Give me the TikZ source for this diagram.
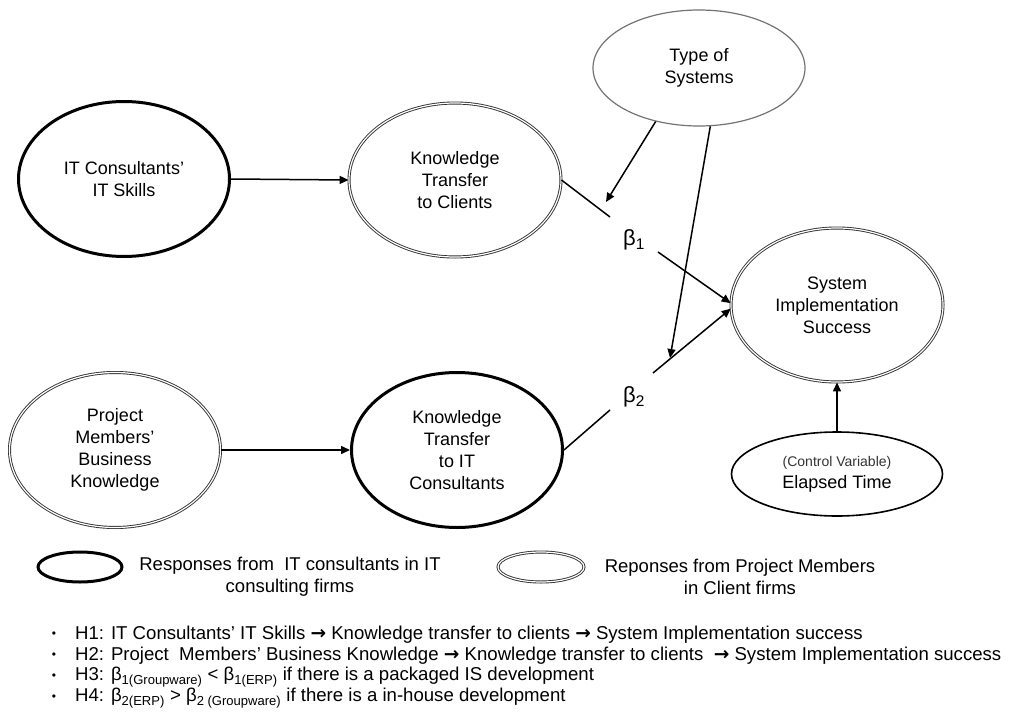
\documentclass[tikz,border=0pt]{standalone}
\usepackage{fontspec}
\setmainfont{Liberation Sans}
\newfontfamily\arrowfont{DejaVu Sans}
\newcommand{\myarr}{{\arrowfont\bfseries →}}
\usetikzlibrary{arrows.meta,shapes.geometric}
\begin{document}
\begin{tikzpicture}[x=1pt,y=-1pt,
  base/.style={ellipse, inner sep=0pt, align=center, font=\fontsize{18}{22}\selectfont},
  thickell/.style={base, draw=black, line width=3pt},
  dblell/.style={base, draw=black!80, line width=0.9pt, double=white, double distance=1.2pt},
  thinell/.style={base, draw=black!55, line width=1.2pt},
  ctrlell/.style={base, draw=black, line width=1.6pt},
  conn/.style={line width=1.5pt, draw=black},
  arr/.style={conn, -{Triangle[length=9pt,width=8pt]}},
  betalab/.style={font=\fontsize{22}{24}\selectfont, inner sep=0pt},
  legtext/.style={align=center, font=\fontsize{18.5}{22}\selectfont, inner sep=0pt},
  bul/.style={font=\fontsize{12}{14}\selectfont, inner sep=0pt},
  hyp/.style={anchor=west, font=\fontsize{18.6}{20}\selectfont, inner sep=0pt}
]
\useasboundingbox[fill=white] (0,0) rectangle (1010,715);

% main constructs
\node[thickell, minimum width=211pt, minimum height=155pt] (its) at (124,179) {IT Consultants'\\IT Skills};
\node[dblell, minimum width=212pt, minimum height=154pt] (ktc) at (455,180) {Knowledge\\Transfer\\to Clients};
\node[dblell, minimum width=211pt, minimum height=155pt] (pmbk) at (115,450) {Project\\Members'\\Business\\Knowledge};
\node[thickell, minimum width=211pt, minimum height=155pt] (ktit) at (457,450) {Knowledge\\Transfer\\to IT\\Consultants};
\node[thinell, minimum width=212pt, minimum height=116pt] (tos) at (699,68) {Type of\\Systems};
\node[dblell, minimum width=212pt, minimum height=154pt] (sis) at (837,305) {System\\Implementation\\Success};
\node[ctrlell, minimum width=211pt, minimum height=84pt] (et) at (837,474)
  {{\fontsize{14}{16}\selectfont\color{black!80}(Control Variable)}\\Elapsed Time};

% beta labels
\node[betalab] (b1) at (634,240) {β\textsubscript{1}};
\node[betalab] (b2) at (634,397) {β\textsubscript{2}};

% connector points
\coordinate (b1a) at (610,217);
\coordinate (b1b) at (658,252);
\coordinate (b2a) at (610,410);
\coordinate (b2b) at (653,373);
\coordinate (t1) at (606,202);
\coordinate (t2) at (670,358);

% connectors
\draw[arr] (its.east) -- (ktc.west);
\draw[arr] (pmbk.east) -- (ktit.west);
\draw[conn] (ktc.east) -- (b1a);
\draw[arr] (b1b) -- (sis.179);
\draw[conn] (ktit.east) -- (b2a);
\draw[arr] (b2b) -- (sis.182);
\draw[arr] (tos.231) -- (t1);
\draw[arr] (tos.281) -- (t2);
\draw[arr] (et) -- (sis);

% legend
\node[thickell, minimum width=84pt, minimum height=30pt] (lg1) at (80,567) {};
\node[legtext] (lt1) at (290,577) {Responses from\ \ IT consultants in IT\\consulting firms};
\node[dblell, minimum width=86pt, minimum height=30pt] (lg2) at (541,567) {};
\node[legtext] (lt2) at (740,577) {Reponses from Project Members\\in Client firms};

% hypotheses
\node[bul] (bu1) at (54,635) {•};
\node[bul] (bu2) at (54,656) {•};
\node[bul] (bu3) at (54,677) {•};
\node[bul] (bu4) at (54,698) {•};
\node[hyp] (h1) at (75,635) {H1: IT Consultants' IT Skills \myarr{} Knowledge transfer to clients \myarr{} System Implementation success};
\node[hyp] (h2) at (75,656) {H2: Project\ \ Members' Business Knowledge \myarr{} Knowledge transfer to clients\ \ \myarr{} System Implementation success};
\node[hyp] (h3) at (75,677) {H3: β\textsubscript{1(Groupware)} < β\textsubscript{1(ERP)} if there is a packaged IS development};
\node[hyp] (h4) at (75,698) {H4: β\textsubscript{2(ERP)} > β\textsubscript{2 (Groupware)} if there is a in-house development};
\end{tikzpicture}
\end{document}
